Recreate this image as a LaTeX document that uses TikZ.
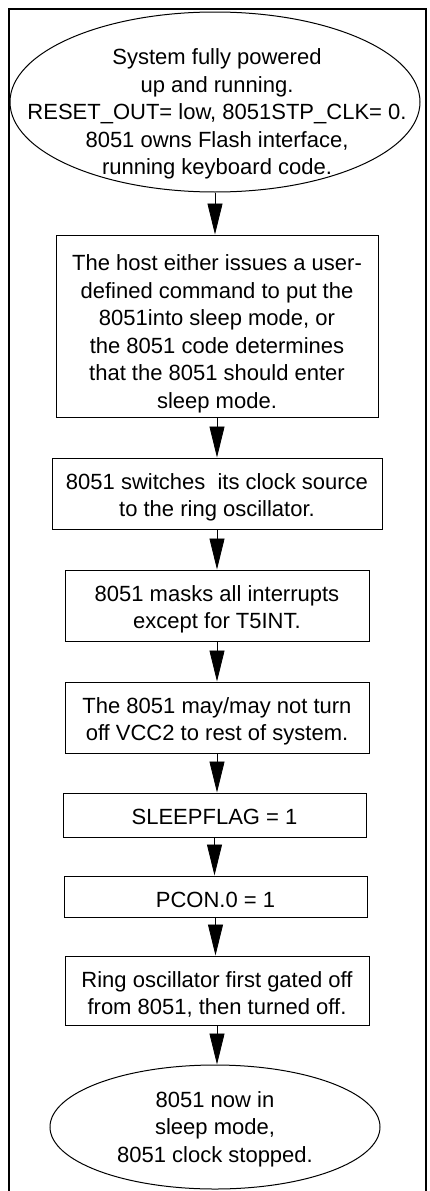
\documentclass[tikz,border=0pt]{standalone}
\usepackage{fontspec}
\setmainfont{Liberation Sans}
\usetikzlibrary{arrows.meta,shapes.geometric}
\tikzset{
  stepbox/.style={draw, line width=1pt, align=center, inner sep=0pt,
                  font=\fontsize{22}{27.5}\selectfont},
  endbox/.style={draw, ellipse, line width=1pt, inner sep=0pt},
  txt/.style={align=center, inner sep=0pt, font=\fontsize{22}{27.5}\selectfont},
  ar/.style={-{Triangle[length=31pt,width=15pt]}, line width=0.8pt},
  frame/.style={line width=2pt}
}

\begin{document}
\begin{tikzpicture}[x=1pt,y=-1pt]
  \useasboundingbox (0,0) rectangle (430,1191);
  \draw[frame] (9,1195) -- (9,9) -- (426,9) -- (426,1195);

  \node[endbox, minimum width=410pt, minimum height=180pt] (run) at (215,102) {};
  \node[txt] (runtxt) at (217,114)
     {System fully powered\\up and running.\\RESET\_OUT= low, 8051STP\_CLK= 0.\\8051 owns Flash interface,\\running keyboard code.};

  % a 0pt wide rule on the first line pushes the text a little down
  \node[stepbox, minimum width=322pt, minimum height=182pt] (host) at (217,326)
     {\rule{0pt}{32pt}The host either issues a user-\\defined command to put the\\8051into sleep mode, or\\the 8051 code determines\\that the 8051 should enter\\sleep mode.};
  \node[stepbox, minimum width=330pt, minimum height=71pt] (clk) at (217,493.5)
     {\rule{0pt}{24pt}8051 switches\ \ its clock source\\to the ring oscillator.};
  \node[stepbox, minimum width=304pt, minimum height=71pt] (mask) at (217,605.5)
     {\rule{0pt}{24pt}8051 masks all interrupts\\except for T5INT.};
  \node[stepbox, minimum width=304pt, minimum height=71pt] (vcc) at (217,717.5)
     {\rule{0pt}{24pt}The 8051 may/may not turn\\off VCC2 to rest of system.};
  \node[stepbox, minimum width=303pt, minimum height=44pt] (flag) at (214.5,815)
     {\rule{0pt}{20pt}SLEEPFLAG = 1};
  \node[stepbox, minimum width=303pt, minimum height=41pt] (pcon) at (215.5,896.5)
     {\rule{0pt}{22pt}PCON.0 = 1};
  \node[stepbox, minimum width=304pt, minimum height=69pt] (ring) at (217,990.5)
     {\rule{0pt}{24pt}Ring oscillator first gated off\\from 8051, then turned off.};

  \node[endbox, minimum width=330pt, minimum height=124pt] (sleep) at (215,1127) {};
  \node[txt] (sleeptxt) at (215,1129)
     {8051 now in\\sleep mode,\\8051 clock stopped.};

  \draw[ar] (run) -- (run |- host.north);
  \draw[ar] (host) -- (host |- clk.north);
  \draw[ar] (clk) -- (clk |- mask.north);
  \draw[ar] (mask) -- (mask |- vcc.north);
  \draw[ar] (vcc) -- (vcc |- flag.north);
  \draw[ar] (flag) -- (flag |- pcon.north);
  \draw[ar] (pcon) -- (pcon |- ring.north);
  \draw[ar] (ring) -- (ring |- sleep.north);
\end{tikzpicture}
\end{document}
